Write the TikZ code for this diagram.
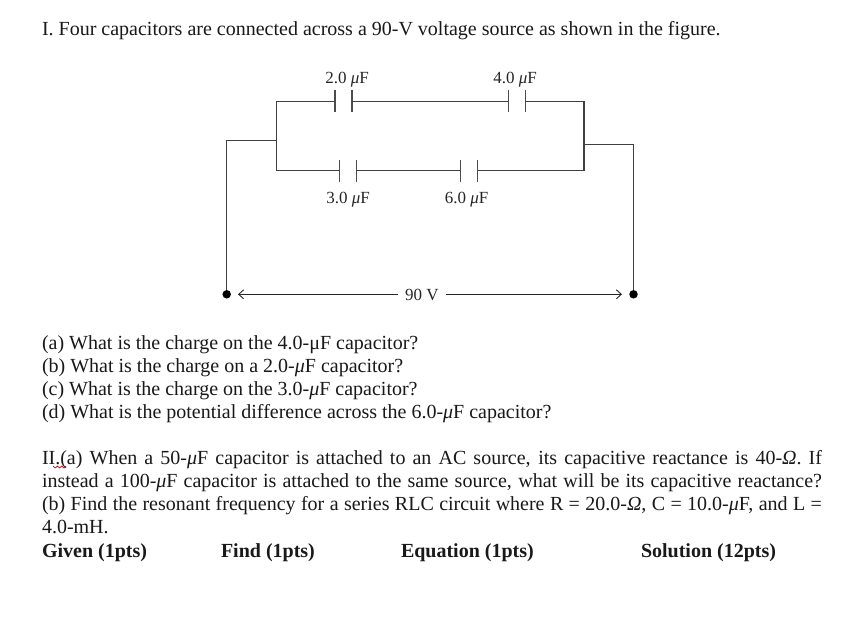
\documentclass[tikz,border=0pt]{standalone}
\usepackage{fontspec}
\setmainfont{Liberation Serif}
\usetikzlibrary{arrows.meta}
\tikzset{
  x=1pt,y=-1pt,
  wire/.style={draw=black!75,line width=1.3pt},
  thinwire/.style={draw=black!75,line width=1.1pt},
  plate/.style={draw=black!70,line width=1.2pt},
  dim/.style={draw=black!85,line width=0.9pt},
  body/.style={anchor=base west,inner sep=0pt,outer sep=0pt,font=\fontsize{20}{23}\selectfont,text=black!90},
  para/.style={body,text width=780pt,align=justify},
  bodybold/.style={body,font=\fontsize{20}{23}\selectfont\bfseries},
  lab/.style={inner sep=0pt,outer sep=0pt,anchor=base,font=\fontsize{17}{19}\selectfont,text=black!85},
  terminal/.style={circle,fill=black,inner sep=0pt,minimum size=8.5pt},
}
\newcommand{\mui}{\textit{μ}}
\newcommand{\ohmi}{\textit{Ω}}
\newcommand{\capac}[3]{% name, x, y
  \coordinate (#1a) at (#2,#3);
  \coordinate (#1b) at (#2+17,#3);
  \draw[plate] (#2,#3-11) -- (#2,#3+11);
  \draw[plate] (#2+17,#3-11) -- (#2+17,#3+11);
}
\begin{document}
\begin{tikzpicture}
\useasboundingbox (0,0) rectangle (859,629);
\fill[white] (0,0) rectangle (859,629);

\node[body] (t1) at (42,35.5) {I. Four capacitors are connected across a 90-V voltage source as shown in the figure.};

% circuit
\capac{c}{335}{101.3}
\capac{d}{508.3}{101.3}
\capac{e}{339.3}{170.5}
\capac{f}{460.7}{170.5}
\coordinate (ul) at (276.7,101.3);
\coordinate (ll) at (276.7,170.5);
\coordinate (ml) at (276.7,140.5);
\coordinate (ur) at (584,101.3);
\coordinate (lr) at (584,170.5);
\coordinate (mr) at (584,144.5);
\coordinate (tl) at (226.7,140.5);
\coordinate (tr) at (633.5,144.5);
\node[terminal] (A) at (226.7,294.3) {};
\node[terminal] (B) at (633.5,294.3) {};
\draw[wire] (ca) -- (ul) -- (ll) -- (ea);
\draw[wire] (cb) -- (da);
\draw[wire] (db) -- (ur) -- (lr) -- (fb);
\draw[wire] (eb) -- (fa);
\draw[thinwire] (ml) -- (tl) -- (A);
\draw[wire] (mr) -- (tr) -- (B);

\node[lab] (l2) at (347,83.5) {2.0 \mui F};
\node[lab] (l4) at (515,83.5) {4.0 \mui F};
\node[lab] (l3) at (348,203) {3.0 \mui F};
\node[lab] (l6) at (466.5,203) {6.0 \mui F};
\node[lab] (v) at (422,300) {90 V};
\coordinate (al) at (238,294.3);
\coordinate (ar) at (622,294.3);
\draw[dim,-{Straight Barb[length=5pt,width=9pt]}] (398,294.3) -- (al);
\draw[dim,-{Straight Barb[length=5pt,width=9pt]}] (446,294.3) -- (ar);

% questions
\node[body] (qa) at (42,349.5) {(a) What is the charge on the 4.0-μF capacitor?};
\node[body] (qb) at (42,372.5) {(b) What is the charge on a 2.0-\mui F capacitor?};
\node[body] (qc) at (42,395.5) {(c) What is the charge on the 3.0-\mui F capacitor?};
\node[body] (qd) at (42,418.5) {(d) What is the potential difference across the 6.0-\mui F capacitor?};

\node[para] (p2) at (42,464.5) {II.(a) When a 50-\mui F capacitor is attached to an AC source, its capacitive reactance is 40-\ohmi. If\linebreak instead a 100-\mui F capacitor is attached to the same source, what will be its capacitive reactance?\linebreak (b) Find the resonant frequency for a series RLC circuit where R = 20.0-\ohmi, C = 10.0-\mui F, and L =\linebreak 4.0-mH.};
\draw[red!80!black,line width=0.7pt] (53,466) -- (55.2,468) -- (57.4,466) -- (59.6,468) -- (61.8,466) -- (64,468) -- (66,466);

\node[bodybold] (g) at (42,557.5) {Given (1pts)};
\node[bodybold] (h) at (221,557.5) {Find (1pts)};
\node[bodybold] (i) at (401,557.5) {Equation (1pts)};
\node[bodybold] (j) at (641,557.5) {Solution (12pts)};
\end{tikzpicture}
\end{document}
